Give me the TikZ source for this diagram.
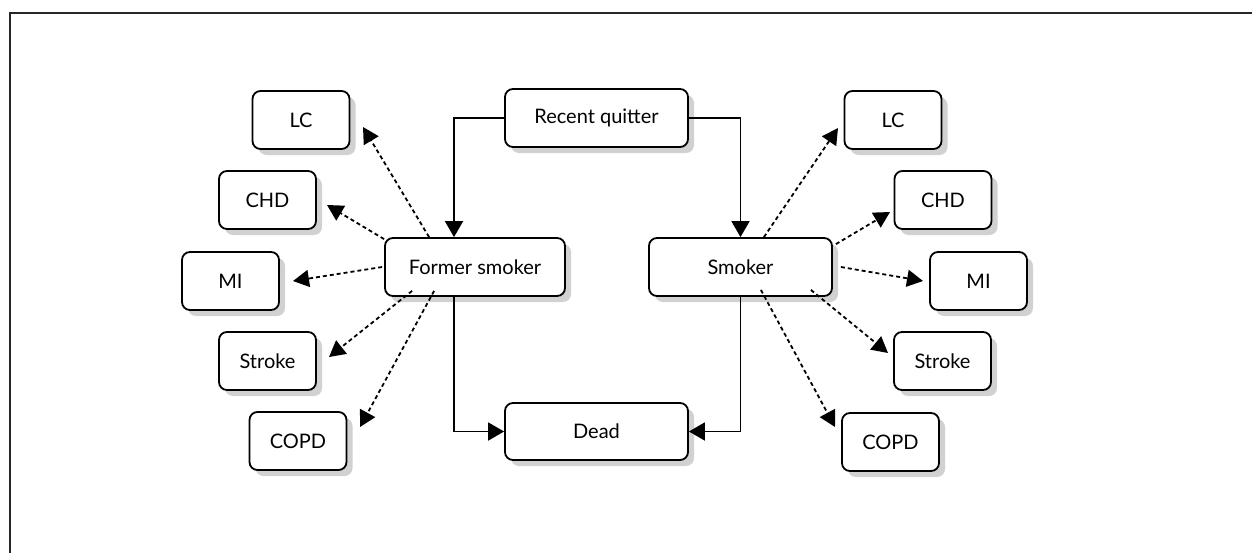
\documentclass[tikz,border=0pt]{standalone}
\usepackage{fontspec}
\setmainfont{Lato}
\usetikzlibrary{arrows.meta}
\begin{document}
\begin{tikzpicture}[x=1pt,y=-1pt,
  box/.style={draw=black, line width=1.8pt, rounded corners=8pt, fill=white,
    minimum height=58pt, inner sep=0pt, font=\fontsize{20}{24}\selectfont,
    preaction={fill=black!18, draw=none, transform canvas={xshift=6pt,yshift=-6pt}}},
  small/.style={box, minimum width=97pt},
  big/.style={box, minimum width=183pt},
  solidarrow/.style={draw=black, line width=1.8pt, -{Triangle[length=16pt,width=18pt]}},
  dotarrow/.style={draw=black, line width=1.8pt, dash pattern=on 4pt off 3pt, -{Triangle[length=16pt,width=17pt]}}
]
\useasboundingbox (0,0) rectangle (1252,552);
\draw[black!85, line width=2pt] (9.5,560) -- (9.5,12.5) -- (1260,12.5);

% main nodes
\node[big] (rq) at (596.5,118) {Recent quitter};
\node[box, minimum width=180pt] (fs) at (475,267) {Former smoker};
\node[big] (sm) at (740.5,267) {Smoker};
\node[big, minimum height=57pt] (dead) at (596.5,431.5) {Dead};

% left outcomes
\node[small] (llc) at (301,120) {LC};
\node[small] (lchd) at (267.5,200) {CHD};
\node[small] (lmi) at (230.5,281) {MI};
\node[small] (lst) at (267.5,361) {Stroke};
\node[small] (lcopd) at (298,441) {COPD};

% right outcomes
\node[small] (rlc) at (893,120) {LC};
\node[small] (rchd) at (943,200) {CHD};
\node[small] (rmi) at (978.5,281) {MI};
\node[small] (rst) at (942.5,361) {Stroke};
\node[small] (rcopd) at (890.5,442) {COPD};

% solid transitions
\draw[solidarrow] (rq.west) -| ([xshift=-21pt]fs.north);
\draw[solidarrow] (rq.east) -| (sm.north);
\draw[solidarrow] ([xshift=-21pt]fs.south) |- (dead.west);
\draw[solidarrow] (sm.south) |- (dead.east);

% arrow tip coordinates (left)
\coordinate (tllc) at (363,127);
\coordinate (tlchd) at (327,205);
\coordinate (tlmi) at (293,281);
\coordinate (tlst) at (329,357);
\coordinate (tlcopd) at (360,427);
% arrow tip coordinates (right)
\coordinate (trlc) at (838,128);
\coordinate (trchd) at (890,212);
\coordinate (trmi) at (923,281);
\coordinate (trst) at (888,353);
\coordinate (trcopd) at (835,427);

% dotted from former smoker
\draw[dotarrow] ([xshift=45pt]fs.north west) -- (tllc);
\draw[dotarrow] ([yshift=-2pt]fs.north west) -- (tlchd);
\draw[dotarrow] ([xshift=-2pt]fs.west) -- (tlmi);
\draw[dotarrow] ([xshift=28pt,yshift=6pt]fs.south west) -- (tlst);
\draw[dotarrow] ([xshift=50pt,yshift=6pt]fs.south west) -- (tlcopd);

% dotted from smoker
\draw[dotarrow] ([xshift=-69pt]sm.north east) -- (trlc);
\draw[dotarrow] ([xshift=3pt,yshift=-7pt]sm.north east) -- (trchd);
\draw[dotarrow] ([xshift=8pt]sm.east) -- (trmi);
\draw[dotarrow] ([xshift=-22pt,yshift=7pt]sm.south east) -- (trst);
\draw[dotarrow] ([xshift=-72pt,yshift=7pt]sm.south east) -- (trcopd);
\end{tikzpicture}
\end{document}
